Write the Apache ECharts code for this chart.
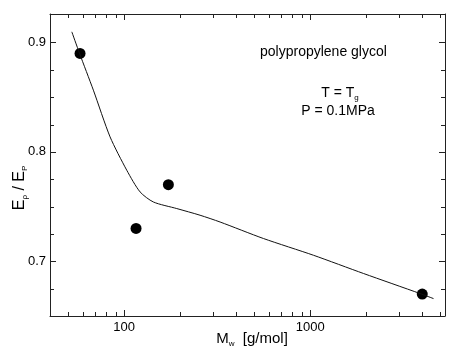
<!DOCTYPE html>
<html>
<head>
<meta charset="utf-8">
<script src="https://cdn.jsdelivr.net/npm/echarts@6/dist/echarts.min.js"></script>
<style>html,body{margin:0;padding:0;background:#fff;}#c{width:449px;height:349px;}</style>
</head>
<body>
<div id="c"></div>
<script>
// Data
var pointMw = [58, 116, 173, 4000];
var pointRatio = [0.89, 0.73, 0.77, 0.67];
var curveMw = [52.4, 57.5, 68.4, 84.1, 103.4, 121.9, 143.7, 191.9, 256, 328, 561, 1042, 1937, 3898, 4600];
var curveRatio = [0.9097, 0.8905, 0.8564, 0.8137, 0.7832, 0.7634, 0.7542, 0.7482, 0.7421, 0.7359, 0.7208, 0.7055, 0.6888, 0.6705, 0.6659];
var xMajorTicks = [100, 1000];
var xMinorTicks = [50, 60, 70, 80, 90, 200, 300, 400, 500, 600, 700, 800, 900, 2000, 3000, 4000, 5000];
var yMajorTicks = [0.7, 0.8, 0.9];
var yMinorTicks = [0.675, 0.725, 0.75, 0.775, 0.825, 0.85, 0.875];
var annotations = ['polypropylene glycol', 'T = T', 'P = 0.1MPa'];

var FONT = 'Liberation Sans, Arial, sans-serif';
var xMin = 40, xMax = 5300, yMin = 0.65, yMax = 0.926;
var MAJOR_LEN = 6, MINOR_LEN = 4;

function xAx(pos, showLabel) {
  return {
    type: 'log', min: xMin, max: xMax, position: pos,
    axisLine: {show: true, lineStyle: {color: '#222'}},
    axisTick: {show: false},
    axisLabel: {show: showLabel, customValues: xMajorTicks, fontSize: 13, fontFamily: FONT, color: '#000', margin: 5,
      formatter: function (v) { return String(Math.round(v)); }},
    splitLine: {show: false}
  };
}
function yAx(pos, showLabel) {
  return {
    type: 'value', min: yMin, max: yMax, position: pos,
    axisLine: {show: true, lineStyle: {color: '#222'}},
    axisTick: {show: false},
    axisLabel: {show: showLabel, customValues: yMajorTicks, fontSize: 13, fontFamily: FONT, color: '#000', margin: 4,
      formatter: function (v) { return v.toFixed(1); }},
    splitLine: {show: false}
  };
}

// tick data: [x, y, length]
var xTickData = xMajorTicks.map(function (v) { return [v, yMin, MAJOR_LEN]; })
  .concat(xMinorTicks.map(function (v) { return [v, yMin, MINOR_LEN]; }));
var yTickData = yMajorTicks.map(function (v) { return [xMin, v, MAJOR_LEN]; })
  .concat(yMinorTicks.map(function (v) { return [xMin, v, MINOR_LEN]; }));

var tickStyle = {stroke: '#222', lineWidth: 1};
function renderXTick(params, api) {
  var v = api.value(0), len = api.value(2);
  var b = api.coord([v, yMin]), t = api.coord([v, yMax]);
  var x = Math.round(b[0]) + 0.5;
  return {type: 'group', children: [
    {type: 'line', shape: {x1: x, y1: b[1], x2: x, y2: b[1] - len}, style: tickStyle},
    {type: 'line', shape: {x1: x, y1: t[1], x2: x, y2: t[1] + len}, style: tickStyle}
  ]};
}
function renderYTick(params, api) {
  var v = api.value(1), len = api.value(2);
  var l = api.coord([xMin, v]), r = api.coord([xMax, v]);
  var y = Math.round(l[1]) + 0.5;
  return {type: 'group', children: [
    {type: 'line', shape: {x1: l[0], y1: y, x2: l[0] + len, y2: y}, style: tickStyle},
    {type: 'line', shape: {x1: r[0], y1: y, x2: r[0] - len, y2: y}, style: tickStyle}
  ]};
}

var chart = echarts.init(document.getElementById('c'));
chart.setOption({
  animation: false,
  grid: {left: 50, right: 4, top: 14, bottom: 33},
  xAxis: [xAx('bottom', true), xAx('top', false)],
  yAxis: [yAx('left', true), yAx('right', false)],
  series: [
    {type: 'custom', silent: true, clip: false, xAxisIndex: 0, yAxisIndex: 0,
      encode: {x: 0, y: 1}, data: xTickData, renderItem: renderXTick},
    {type: 'custom', silent: true, clip: false, xAxisIndex: 0, yAxisIndex: 0,
      encode: {x: 0, y: 1}, data: yTickData, renderItem: renderYTick},
    {
      type: 'line', xAxisIndex: 0, yAxisIndex: 0,
      data: curveMw.map(function (m, i) { return [m, curveRatio[i]]; }),
      smooth: 0.25, showSymbol: false, symbol: 'none',
      lineStyle: {color: '#111', width: 1}
    },
    {
      type: 'scatter', xAxisIndex: 0, yAxisIndex: 0,
      data: pointMw.map(function (m, i) { return [m, pointRatio[i]]; }),
      symbol: 'circle', symbolSize: 11,
      itemStyle: {color: '#000', opacity: 1}
    }
  ],
  graphic: [
    {type: 'text', left: 260, top: 45, style: {text: annotations[0], font: '14px ' + FONT, fill: '#000'}},
    {type: 'text', x: 340, y: 93, style: {
      text: '{a|' + annotations[1] + '}{s|g}', align: 'center', verticalAlign: 'middle',
      rich: {a: {fontSize: 14, fontFamily: FONT, fill: '#000'}, s: {fontSize: 8, fontFamily: FONT, fill: '#000', padding: [10, 0, 0, 0]}}
    }},
    {type: 'text', x: 338, y: 111, style: {text: annotations[2], font: '14px ' + FONT, fill: '#000', align: 'center', verticalAlign: 'middle'}},
    {type: 'text', x: 252, y: 339, style: {
      text: '{a|M}{s|w}{a|  [g/mol]}', align: 'center', verticalAlign: 'middle',
      rich: {a: {fontSize: 15, fontFamily: FONT, fill: '#000'}, s: {fontSize: 8, fontFamily: FONT, fill: '#000', padding: [10, 0, 0, 0]}}
    }},
    {type: 'text', x: 20, y: 188, rotation: Math.PI / 2, style: {
      text: '{a|E}{s|ρ}{a| / E}{s|P}', align: 'center', verticalAlign: 'middle',
      rich: {a: {fontSize: 16, fontFamily: FONT, fill: '#000'}, s: {fontSize: 8, fontFamily: FONT, fill: '#000', padding: [10, 0, 0, 0]}}
    }}
  ]
});
</script>
</body>
</html>
